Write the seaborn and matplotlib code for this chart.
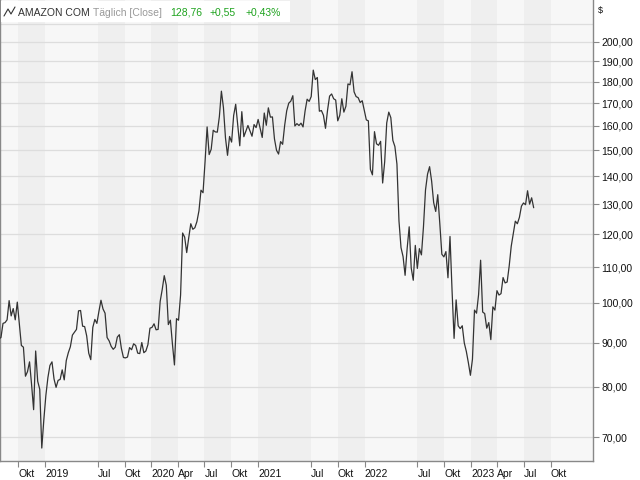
import pandas as pd
import matplotlib
matplotlib.use("Agg")
import matplotlib.pyplot as plt
import matplotlib.ticker as mticker
from matplotlib.patches import Rectangle
from matplotlib.lines import Line2D
import seaborn as sns

#----------------------------------------------------------------------------------------
# Weekly closing prices of Amazon (one value per Friday, starting 2018-07-27)

vals_2018 = [90.9, 91.2, 94.7, 94.9, 95.6, 100.6, 96.6, 98.5, 95.6, 100.2, 94.7, 89.3,
             88.9, 82.3, 83.3, 85.5, 80.5, 75.3, 88.0, 81.2, 79.5, 68.0, 73.3]

vals_2019 = [78.2, 82.0, 84.7, 85.5, 81.7, 79.9, 81.4, 81.6, 83.7, 81.5, 85.8, 87.6, 89.0,
             91.8, 92.5, 93.2, 97.9, 98.0, 94.0, 93.9, 91.6, 87.5, 86.0, 93.7, 95.7, 94.7,
             97.8, 100.7, 98.4, 97.3, 91.2, 90.4, 89.1, 88.4, 88.9, 91.3, 91.9, 88.6, 86.5,
             86.4, 86.6, 88.8, 88.3, 89.7, 89.3, 87.5, 87.4, 90.0, 87.6, 88.0, 89.5, 93.5]

vals_2020 = [93.7, 94.6, 93.1, 93.2, 100.4, 103.6, 107.5, 104.8, 94.4, 95.5, 89.7, 84.8, 95.9,
             95.5, 102.1, 120.4, 119.1, 114.3, 118.9, 123.4, 121.6, 122.1, 124.1, 127.7, 134.9,
             134.0, 145.6, 159.6, 148.3, 150.4, 158.2, 157.5, 157.4, 164.0, 175.5, 168.0, 155.0,
             148.0, 155.6, 153.3, 164.5, 169.5, 160.2, 151.8, 166.2, 155.5, 157.8, 160.2, 157.9,
             155.7, 160.6, 159.3]

vals_2021 = [162.8, 159.0, 155.2, 165.6, 160.3, 167.9, 163.8, 163.9, 154.6, 150.0, 148.5, 153.5,
             152.4, 160.3, 166.6, 170.0, 170.9, 173.4, 160.0, 161.0, 160.2, 161.2, 159.6, 166.5,
             171.8, 170.8, 173.0, 185.6, 181.0, 182.0, 166.4, 166.7, 164.6, 159.0, 166.8, 173.2,
             174.2, 172.0, 171.4, 162.2, 164.6, 172.0, 166.0, 168.6, 178.9, 178.5, 184.8, 175.2,
             173.0, 172.5, 170.3, 171.1, 166.7]

vals_2022 = [162.6, 162.2, 142.6, 140.5, 157.6, 152.6, 152.0, 153.6, 137.5, 145.5, 161.3, 166.0,
             163.6, 154.0, 151.5, 144.6, 124.3, 115.8, 113.1, 107.6, 115.5, 122.4, 109.7, 106.2,
             116.5, 109.6, 115.5, 113.6, 122.4, 135.0, 140.8, 143.6, 138.2, 130.5, 127.5, 133.3,
             123.5, 113.8, 113.0, 114.6, 106.9, 119.3, 103.4, 91.0, 100.8, 94.1, 93.4, 94.1,
             89.9, 87.9, 85.3, 82.5]

vals_2023 = [86.1, 98.1, 97.3, 102.2, 112.0, 97.6, 97.2, 93.5, 94.9, 90.7, 98.95, 98.1, 103.3,
             102.1, 102.5, 106.96, 105.45, 105.7, 110.3, 116.25, 120.1, 124.25, 123.4, 125.5,
             129.3, 130.4, 129.8, 134.7, 130.0, 132.2, 128.76]

close = vals_2018 + vals_2019 + vals_2020 + vals_2021 + vals_2022 + vals_2023
dates = pd.date_range("2018-07-27", periods=len(close), freq="7D")

df = pd.DataFrame({"Date": dates, "Close": close})

# axis ticks and labels (quarters, some of them skipped like in the original)
tick_dates = ["2018-10-01", "2019-01-01", "2019-07-01", "2019-10-01", "2020-01-01", "2020-04-01",
              "2020-07-01", "2020-10-01", "2021-01-01", "2021-07-01", "2021-10-01", "2022-01-01",
              "2022-07-01", "2022-10-01", "2023-01-01", "2023-04-01", "2023-07-01", "2023-10-01"]
tick_labels = ["Okt", "2019", "Jul", "Okt", "2020", "Apr", "Jul", "Okt", "2021", "Jul", "Okt",
               "2022", "Jul", "Okt", "2023", "Apr", "Jul", "Okt"]

price_ticks = [70, 80, 90, 100, 110, 120, 130, 140, 150, 160, 170, 180, 190, 200]
price_labels = ["%d,00" % p for p in price_ticks]

#----------------------------------------------------------------------------------------

sns.set_style("white")
plt.rcParams["font.family"] = ["Liberation Sans", "DejaVu Sans"]
fs = 7.5

fig = plt.figure(figsize=(6.4, 4.8), dpi=100)
ax = fig.add_axes([0, 19 / 480, 593 / 640, 461 / 480])
ax.set_facecolor("#f7f7f7")

xmin = pd.Timestamp("2018-07-30 17:00")
xmax = pd.Timestamp("2024-02-23 10:00")

# alternating background bands between the labelled ticks
edges = [xmin] + list(pd.to_datetime(tick_dates)) + [xmax]
for i in range(len(edges) - 1):
    if i % 2 == 1:
        ax.axvspan(edges[i], edges[i + 1], color="#efefef", lw=0, zorder=0.1)

sns.lineplot(data=df, x="Date", y="Close", ax=ax, color="#333333", linewidth=0.9,
             estimator=None, zorder=3)

ax.set_yscale("log")
ax.set_ylim(65.7, 223.6)
ax.set_xlim(xmin, xmax)

ax.set_yticks(price_ticks)
ax.yaxis.set_major_formatter(mticker.FixedFormatter(price_labels))
ax.yaxis.set_minor_locator(mticker.NullLocator())
ax.yaxis.tick_right()
ax.yaxis.grid(True, color="#dddddd", linewidth=0.9, zorder=0.5)
ax.axhline(210, color="#dddddd", linewidth=0.9, zorder=0.5)

ax.set_xticks(pd.to_datetime(tick_dates))
ax.set_xticklabels(tick_labels)
ax.xaxis.set_minor_locator(mticker.NullLocator())
for lab in ax.get_xticklabels():
    lab.set_horizontalalignment("left")

ax.tick_params(axis="both", length=4, width=0.8, color="#888888", labelsize=fs,
               labelcolor="#111111", pad=2)
ax.tick_params(axis="y", right=True, left=False)
ax.tick_params(axis="x", bottom=True)

ax.set_xlabel("")
ax.set_ylabel("")
for side in ["left", "bottom", "right"]:
    ax.spines[side].set_visible(True)
    ax.spines[side].set_color("#888888")
    ax.spines[side].set_linewidth(1.0)
ax.spines["top"].set_visible(False)

# unit label above the price axis
fig.text(598 / 640, 1 - 11 / 480, "$", fontsize=6.5, color="#111111", va="center")

#----------------------------------------------------------------------------------------
# header box in the top left corner


def px(x, y):
    return x / 640, 1 - y / 480


fig.patches.append(Rectangle(px(1, 22), 289 / 640, 21 / 480, transform=fig.transFigure,
                             facecolor="white", edgecolor="none", zorder=5))

ix = [4, 8, 11, 15]
iy = [16, 9, 14, 7]
fig.lines.append(Line2D([a / 640 for a in ix], [1 - b / 480 for b in iy],
                        transform=fig.transFigure, color="#333333", lw=0.8, zorder=6))

base = 1 - 15.5 / 480
fig.text(18 / 640, base, "AMAZON COM", fontsize=fs, color="#333333", va="baseline", zorder=6)
fig.text(93 / 640, base, "Täglich [Close]", fontsize=fs, color="#999999", va="baseline", zorder=6)
fig.text(170 / 640, base, "128,76", fontsize=fs, color="#1fa31f", va="baseline", zorder=6)
fig.text(210 / 640, base, "+0,55", fontsize=fs, color="#1fa31f", va="baseline", zorder=6)
fig.text(246 / 640, base, "+0,43%", fontsize=fs, color="#1fa31f", va="baseline", zorder=6)

plt.savefig("out.png", dpi=100)
